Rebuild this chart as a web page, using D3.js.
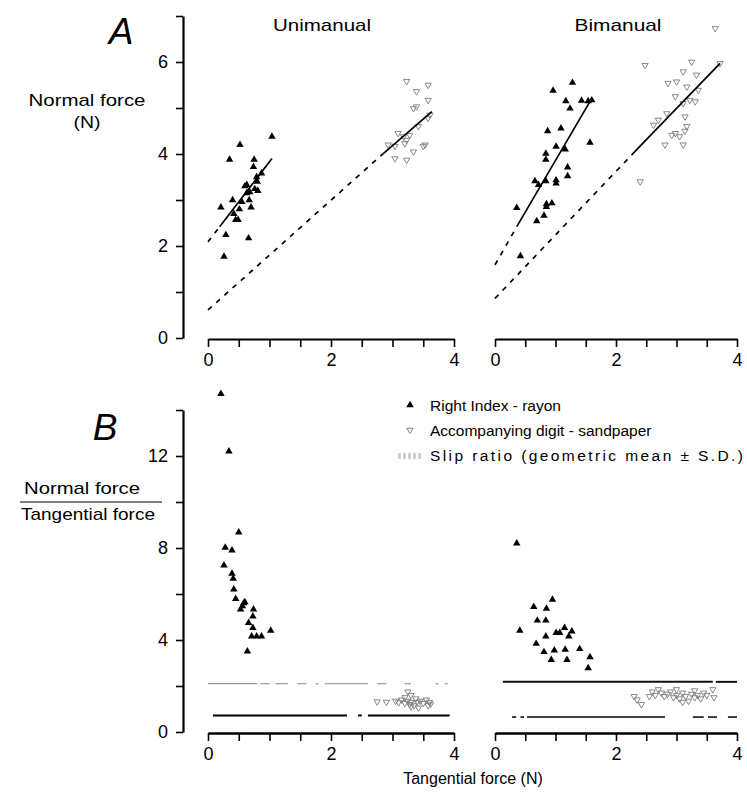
<!DOCTYPE html>
<html><head><meta charset="utf-8">
<script src="https://cdn.jsdelivr.net/npm/d3@7"></script>
<style>
html,body{margin:0;padding:0;background:#fff;}
svg{display:block;font-family:"Liberation Sans",Arial,Helvetica,sans-serif;}
</style></head>
<body>
<svg id="c" width="747" height="794"></svg>
<script>
// ---------- DATA ----------
const panelTitles = ["Unimanual", "Bimanual"];
const xTickValues = [0, 0.5, 1, 1.5, 2, 2.5, 3, 3.5, 4];
const xTickLabels = [0, 2, 4];
const yTicksA = [0, 1, 2, 3, 4, 5, 6, 7];
const yTickLabelsA = [0, 2, 4, 6];
const yTicksB = [0, 2, 4, 6, 8, 10, 12, 14];
const yTickLabelsB = [0, 4, 8, 12];
const legendLabels = ["Right Index  - rayon", "Accompanying digit - sandpaper", "Slip ratio (geometric mean \u00b1 S.D.)"];

// Panel A, Unimanual: [tangential, normal]
const uniRayon = [[1.04,4.38],[0.52,4.2],[0.35,3.88],[0.75,3.88],[0.74,3.72],[0.87,3.58],[0.79,3.5],[0.63,3.33],[0.8,3.4],[0.76,3.24],[0.81,3.2],[0.68,3.17],[0.40,3.0],[0.55,2.96],[0.67,3.0],[0.51,2.8],[0.70,2.84],[0.21,2.84],[0.42,2.7],[0.45,2.57],[0.49,2.57],[0.29,2.24],[0.66,2.17],[0.26,1.77],[0.63,3.15],[0.6,3.3]];
const uniSand = [[3.23,5.58],[3.39,5.36],[3.58,5.5],[3.58,5.17],[3.39,5.03],[3.34,4.99],[3.61,4.85],[3.58,4.78],[3.42,4.6],[3.09,4.45],[3.18,4.38],[3.28,4.41],[3.23,4.3],[3.2,4.23],[2.93,4.2],[3.53,4.2],[3.34,4.05],[3.04,3.9],[3.23,3.87],[3.5,4.17],[3.04,4.17]];
// Panel A, Bimanual
const biRayon = [[1.28,5.55],[0.96,5.38],[1.17,5.15],[1.24,4.99],[1.43,5.16],[1.6,5.17],[1.54,5.15],[0.87,4.5],[1.09,4.56],[1.57,4.25],[1.01,4.16],[1.16,4.1],[0.84,4.01],[0.84,3.88],[1.2,3.71],[1.2,3.52],[0.66,3.41],[0.72,3.33],[0.84,3.41],[1.01,3.43],[1.01,3.36],[0.36,2.83],[0.85,2.91],[0.94,2.93],[0.81,2.66],[0.69,2.54],[0.42,1.78],[0.85,2.85]];
const biSand = [[3.64,6.73],[2.48,5.93],[3.25,6.0],[3.11,5.79],[3.33,5.72],[2.86,5.54],[3.0,5.57],[3.17,5.46],[3.36,5.39],[2.98,5.25],[3.22,5.17],[3.31,5.14],[3.11,5.1],[2.62,4.63],[2.70,4.74],[2.84,4.88],[3.14,4.81],[3.17,4.6],[3.14,4.5],[2.92,4.41],[2.98,4.45],[2.81,4.2],[3.11,4.2],[3.05,4.38],[2.40,3.4],[3.72,5.97]];
// Regression lines: [dashed part], [solid part]  (endpoints)
const uniRayonFitDashed = [[0,2.09],[0.19,2.42]];
const uniRayonFitSolid  = [[0.19,2.42],[1.04,3.9]];
const uniSandFitDashed  = [[0,0.61],[2.85,4.01]];
const uniSandFitSolid   = [[2.85,4.01],[3.64,4.92]];
const biRayonFitDashed  = [[0,1.59],[0.36,2.42]];
const biRayonFitSolid   = [[0.36,2.42],[1.6,5.21]];
const biSandFitDashed   = [[0,0.86],[2.31,4.05]];
const biSandFitSolid    = [[2.31,4.05],[3.72,5.97]];

// Panel B: [tangential, normal/tangential]
const uniRayonRatio = [[0.21,14.7],[0.34,12.2],[0.50,8.68],[0.28,8.02],[0.39,7.9],[0.26,7.25],[0.39,6.89],[0.41,6.67],[0.42,6.2],[0.45,5.79],[0.6,5.65],[0.56,5.47],[0.53,5.33],[0.74,5.33],[0.73,5.03],[0.66,4.75],[0.73,4.53],[0.71,4.16],[0.79,4.16],[0.87,4.16],[1.02,4.41],[0.64,3.51],[0.58,5.6]];
const uniSandRatio = [[2.9,1.3],[3.05,1.35],[3.1,1.28],[3.15,1.4],[3.2,1.25],[3.2,1.5],[3.25,1.35],[3.28,1.2],[3.3,1.6],[3.3,1.3],[3.35,1.15],[3.38,1.45],[3.4,1.3],[3.42,1.05],[3.45,1.35],[3.5,1.25],[3.55,1.4],[3.58,1.15],[3.6,1.3],[3.62,1.22],[3.25,1.75],[3.3,1.1],[2.75,1.32]];
const biRayonRatio = [[0.36,8.2],[0.95,5.76],[0.64,5.44],[0.85,5.37],[0.7,4.85],[0.84,4.85],[0.41,4.41],[0.84,4.16],[1.01,4.31],[1.07,4.31],[1.15,4.53],[1.27,4.38],[1.22,4.16],[0.68,3.84],[0.81,3.48],[0.93,3.14],[0.98,3.55],[1.16,3.58],[1.19,3.14],[1.4,3.61],[1.57,3.26],[1.54,2.78]];
const biSandRatio = [[2.3,1.55],[2.35,1.4],[2.42,1.2],[2.6,1.75],[2.65,1.6],[2.7,1.85],[2.75,1.7],[2.8,1.55],[2.85,1.65],[2.9,1.75],[2.95,1.5],[3.0,1.6],[3.0,1.85],[3.05,1.45],[3.1,1.7],[3.15,1.55],[3.2,1.35],[3.25,1.65],[3.3,1.8],[3.3,1.5],[3.35,1.6],[3.4,1.45],[3.45,1.7],[3.6,1.85],[3.62,1.5],[3.5,1.6],[2.55,1.55],[3.1,1.3]];
// Slip ratio lines: segments [x0,x1] at a level
const uniSlipUpper = {level: 2.1, segs: [[0,0.8],[0.85,1.0],[1.1,1.3],[1.45,1.6],[1.75,1.8],[1.9,2.4],[2.4,2.6],[2.75,2.9],[3.2,3.3],[3.7,3.75],[3.85,3.9]]};
const uniSlipLower = {level: 0.72, segs: [[0.08,2.26],[2.44,2.5],[2.6,3.93]]};
const biSlipUpper  = {level: 2.18, segs: [[0.13,3.6],[3.65,4.0]]};
const biSlipLower  = {level: 0.65, segs: [[0.28,0.35],[0.42,0.48],[0.53,2.81],[3.27,3.45],[3.52,3.67],[3.85,4.0]]};

// ---------- DRAW ----------
const svg = d3.select("#c");
const yA = d3.scaleLinear().domain([0,7]).range([338,16]);
const yB = d3.scaleLinear().domain([0,14]).range([732,410]);
const xL = d3.scaleLinear().domain([0,4]).range([208,454]);
const xR = d3.scaleLinear().domain([0,4]).range([495,737]);
const FS = 17;
const TFS = 18;

function styleAxis(g, w){
  g.selectAll(".domain").attr("stroke","#000").attr("stroke-width",w);
  g.selectAll(".tick line").attr("stroke","#000").attr("stroke-width",1.6);
  g.selectAll(".tick text").attr("fill","#000").attr("font-size",TFS).attr("font-family",'"Liberation Sans",Arial,sans-serif');
}
function xAxis(x, y0, w){
  const g = svg.append("g").attr("transform",`translate(0,${y0})`)
    .call(d3.axisBottom(x).tickValues(xTickValues).tickSize(8).tickSizeOuter(0).tickPadding(6)
      .tickFormat(d => xTickLabels.includes(d) ? d : ""));
  styleAxis(g, w);
}
function yAxis(y, ticks, labels){
  const g = svg.append("g").attr("transform","translate(183,0)")
    .call(d3.axisLeft(y).tickValues(ticks).tickSize(7).tickSizeOuter(0).tickPadding(8)
      .tickFormat(d => labels.includes(d) ? d : ""));
  styleAxis(g, 2.2);
}
yAxis(yA, yTicksA, yTickLabelsA);
xAxis(xL, 339, 2);
xAxis(xR, 339, 2);
yAxis(yB, yTicksB, yTickLabelsB);
xAxis(xL, 733, 2.6);
xAxis(xR, 733, 2.6);

const tri = d3.symbol().type(d3.symbolTriangle).size(24);
const triS = d3.symbol().type(d3.symbolTriangle).size(17);
function rayon(data, x, y){
  svg.append("g").selectAll("path").data(data).join("path")
    .attr("d", tri).attr("fill","#000")
    .attr("transform", d => `translate(${x(d[0])},${y(d[1])})`);
}
function sand(data, x, y){
  svg.append("g").selectAll("path").data(data).join("path")
    .attr("d", triS).attr("fill","none").attr("stroke","#7a7a7a").attr("stroke-width",0.9)
    .attr("transform", d => `translate(${x(d[0])},${y(d[1])}) rotate(180)`);
}
function fit(pts, x, y, dashed){
  svg.append("path").datum(pts)
    .attr("d", d3.line().x(d=>x(d[0])).y(d=>y(d[1])))
    .attr("fill","none").attr("stroke","#000").attr("stroke-width",1.7)
    .attr("stroke-dasharray", dashed ? "5,6" : null);
}
function slip(obj, x, y, color, width){
  svg.append("g").selectAll("line").data(obj.segs).join("line")
    .attr("x1", d=>x(d[0])).attr("x2", d=>x(d[1]))
    .attr("y1", y(obj.level)).attr("y2", y(obj.level))
    .attr("stroke", color).attr("stroke-width", width);
}

// Panel A
sand(uniSand, xL, yA); sand(biSand, xR, yA);
fit(uniRayonFitDashed, xL, yA, true); fit(uniRayonFitSolid, xL, yA, false);
fit(uniSandFitDashed, xL, yA, true); fit(uniSandFitSolid, xL, yA, false);
fit(biRayonFitDashed, xR, yA, true); fit(biRayonFitSolid, xR, yA, false);
fit(biSandFitDashed, xR, yA, true); fit(biSandFitSolid, xR, yA, false);
rayon(uniRayon, xL, yA); rayon(biRayon, xR, yA);

// Panel B
slip(uniSlipUpper, xL, yB, "#999", 1.2);
slip(uniSlipLower, xL, yB, "#000", 2);
slip(biSlipUpper, xR, yB, "#111", 2);
slip(biSlipLower, xR, yB, "#000", 1.5);
sand(uniSandRatio, xL, yB); sand(biSandRatio, xR, yB);
rayon(uniRayonRatio, xL, yB); rayon(biRayonRatio, xR, yB);

// Texts
const T = (x,y,txt,opt={}) => {
  const t = svg.append("text").attr("x",x).attr("y",y).text(txt)
    .attr("font-size", opt.fs||FS).attr("text-anchor", opt.anchor||"middle")
    .attr("font-style", opt.italic ? "italic" : null).attr("fill","#000");
  if (opt.w) t.attr("textLength", opt.w).attr("lengthAdjust", opt.adj||"spacingAndGlyphs");
  return t;
};
T(121, 44, "A", {fs:37, italic:true});
T(105, 440, "B", {fs:37, italic:true});
T(322, 31, panelTitles[0], {w:98});
T(618, 31, panelTitles[1], {w:87});
T(87, 106, "Normal force", {w:117});
T(87, 128, "(N)", {w:27});
T(82, 494, "Normal force", {w:116});
svg.append("line").attr("x1",20).attr("x2",162).attr("y1",502).attr("y2",502).attr("stroke","#000").attr("stroke-width",1.2);
T(88, 520, "Tangential force", {w:134});
T(473, 784, "Tangential force (N)", {fs:16});

// Legend
const lg = svg.append("g");
lg.append("path").attr("d", tri).attr("fill","#000").attr("transform","translate(410,405)");
lg.append("path").attr("d", triS).attr("fill","none").attr("stroke","#7a7a7a").attr("stroke-width",0.9).attr("transform","translate(410,430) rotate(180)");
[-2,0,2].forEach(o => lg.append("line").attr("x1",398).attr("x2",422).attr("y1",456+o).attr("y2",456+o)
  .attr("stroke","#999").attr("stroke-width",0.9).attr("stroke-dasharray","3,2"));
legendLabels.forEach((t,i) => {
  const opt = {anchor:"start", fs:15.5};
  if (i === 2) { opt.w = 313; opt.adj = "spacing"; }
  T(430, 411 + i*25, t, opt);
});
</script>
</body></html>
